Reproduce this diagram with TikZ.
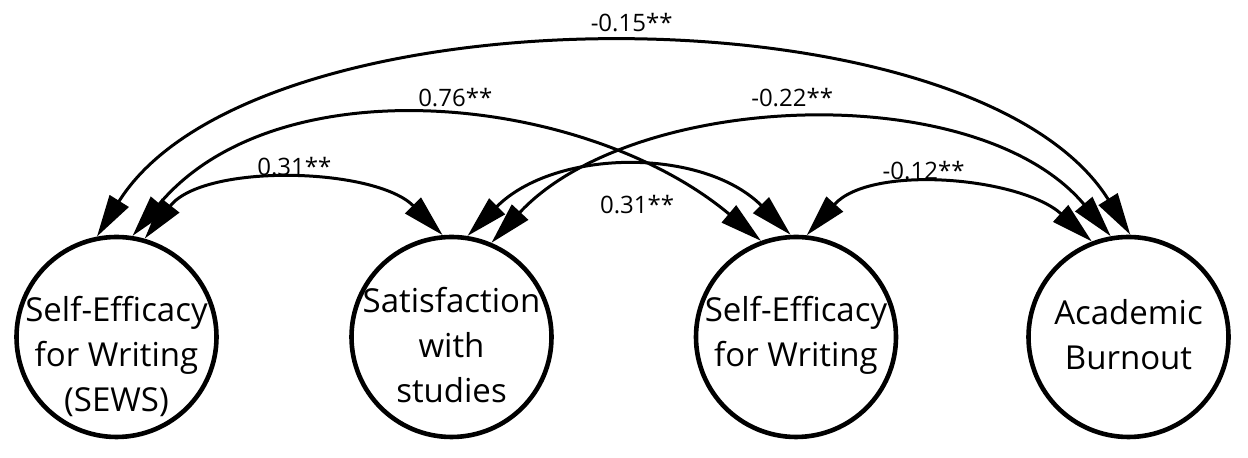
\documentclass[tikz,border=0pt]{standalone}
\usepackage{fontspec}
\setmainfont{Open Sans}
\usetikzlibrary{arrows.meta,positioning}

\begin{document}
\begin{tikzpicture}[x=0.5pt,y=0.5pt,
    latent/.style={circle,draw,line width=2.3pt,minimum size=100pt,inner sep=0pt},
    vname/.style={align=center,font=\fontsize{16.5}{22.5}\selectfont,inner sep=0pt},
    covar/.style={line width=1.5pt,{Triangle[length=21pt,width=11pt]}-{Triangle[length=21pt,width=11pt]}},
    coef/.style={font=\fontsize{12}{14}\selectfont,inner sep=1pt}]
      \useasboundingbox (0,0) rectangle (1248,458);
      \node[latent] (sews) at (116.5,121) {};
      \node[latent] (sat) at (451.5,121) {};
      \node[latent] (sew) at (796,121) {};
      \node[latent] (burn) at (1128.5,121) {};
      \node[vname] (sewsName) at ([yshift=-9.75pt]sews.center) {Self-Efficacy\\for Writing\\(SEWS)};
      \node[vname] (satName) at ([yshift=-4.25pt]sat.center) {Satisfaction\\with\\studies};
      \node[vname] (sewName) at ([yshift=1pt]sew.center) {Self-Efficacy\\for Writing};
      \node[vname] (burnName) at ([yshift=1pt]burn.center) {Academic\\Burnout};
      \draw[covar] (sews.74) to[out=52,in=135,distance=48pt] node[coef,above=2pt,xshift=2pt] (cA) {0.31**} (sat.95);
      \draw[covar] (sews.81) to[out=50,in=140,distance=113.5pt] node[coef,above=4pt,xshift=9.5pt] (cB) {0.76**} (sew.110);
      \draw[covar] (sews.101) to[out=58,in=122,distance=148pt] node[coef,above=6pt,xshift=9pt] (cC) {-0.15**} (burn.89);
      \draw[covar] (sat.67) to[out=47,in=130,distance=104pt] node[coef,above=6pt,xshift=-6pt] (cD) {-0.22**} (burn.100);
      \draw[covar] (sat.81) to[out=45,in=135,distance=62pt] node[coef,below=11pt,xshift=4pt] (cE) {0.31**} (sew.93);
      \draw[covar] (sew.84) to[out=48,in=138,distance=48pt] node[coef,above=2pt,xshift=-11.5pt] (cF) {-0.12**} (burn.111);
    \end{tikzpicture}
\end{document}
